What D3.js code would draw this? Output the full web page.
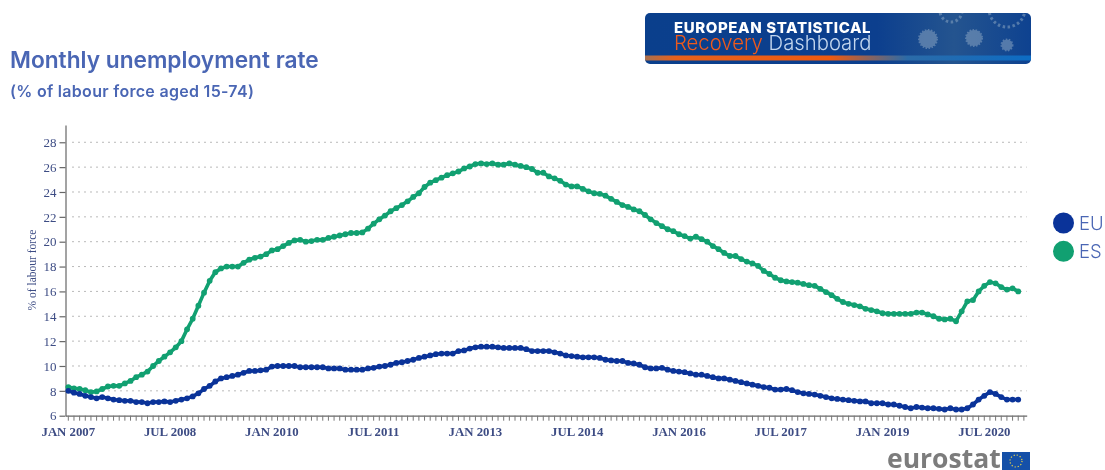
<!DOCTYPE html>
<html>
<head>
<meta charset="utf-8">
<title>Monthly unemployment rate</title>
<script src="https://cdn.jsdelivr.net/npm/d3@7"></script>
<style>
    html, body { margin: 0; padding: 0; background: #fff; overflow: hidden; }
    svg { display: block; filter: blur(0.4px); }
</style>
</head>
<body>
<div id="chart"></div>
<script>
const euValues = [
    8.0, 7.85, 7.75, 7.6, 7.5, 7.4, 7.5, 7.4, 7.3, 7.25, 7.2, 7.2,
    7.1, 7.1, 7.0, 7.1, 7.1, 7.15, 7.1, 7.2, 7.3, 7.4, 7.55, 7.8,
    8.15, 8.4, 8.75, 9.0, 9.1, 9.2, 9.3, 9.45, 9.6, 9.6, 9.65, 9.7,
    9.95, 10.0, 10.0, 10.0, 10.0, 9.9, 9.9, 9.9, 9.9, 9.9, 9.8, 9.8,
    9.8, 9.7, 9.7, 9.7, 9.7, 9.8, 9.85, 9.95, 10.0, 10.1, 10.25, 10.3,
    10.4, 10.5, 10.65, 10.75, 10.85, 10.95, 11.0, 11.0, 11.0, 11.2, 11.25, 11.4,
    11.5, 11.55, 11.55, 11.55, 11.5, 11.45, 11.45, 11.45, 11.45, 11.35, 11.2, 11.2,
    11.2, 11.2, 11.1, 11.0, 10.85, 10.8, 10.75, 10.7, 10.7, 10.7, 10.65, 10.5,
    10.45, 10.4, 10.4, 10.25, 10.2, 10.1, 9.9, 9.8, 9.8, 9.85, 9.7, 9.6,
    9.55, 9.5, 9.4, 9.3, 9.3, 9.2, 9.1, 9.0, 9.0, 8.9, 8.8, 8.7,
    8.6, 8.5, 8.4, 8.3, 8.25, 8.1, 8.1, 8.15, 8.05, 7.9, 7.8, 7.75,
    7.7, 7.6, 7.5, 7.4, 7.35, 7.3, 7.25, 7.2, 7.15, 7.15, 7.0, 7.0,
    7.0, 6.9, 6.9, 6.8, 6.7, 6.6, 6.7, 6.65, 6.6, 6.6, 6.55, 6.5,
    6.6, 6.5, 6.5, 6.6, 6.9, 7.3, 7.6, 7.9, 7.75, 7.5, 7.3, 7.3,
    7.3
]
const esValues = [
    8.3, 8.2, 8.15, 8.05, 7.9, 7.95, 8.15, 8.35, 8.4, 8.4, 8.6, 8.8,
    9.1, 9.3, 9.55, 10.0, 10.4, 10.75, 11.1, 11.5, 12.0, 12.95, 13.8, 14.85,
    15.9, 16.85, 17.55, 17.85, 18.0, 18.0, 18.0, 18.3, 18.55, 18.7, 18.8, 19.0,
    19.3, 19.4, 19.65, 19.9, 20.1, 20.15, 20.0, 20.05, 20.15, 20.15, 20.3, 20.4,
    20.5, 20.6, 20.7, 20.7, 20.75, 21.05, 21.45, 21.8, 22.1, 22.45, 22.7, 22.95,
    23.25, 23.6, 23.9, 24.4, 24.75, 24.95, 25.15, 25.35, 25.5, 25.65, 25.9, 26.05,
    26.25, 26.3, 26.25, 26.3, 26.2, 26.2, 26.3, 26.2, 26.1, 26.0, 25.85, 25.55,
    25.55, 25.25, 25.1, 24.9, 24.6, 24.45, 24.45, 24.25, 24.05, 23.9, 23.85, 23.7,
    23.45, 23.2, 22.95, 22.8, 22.6, 22.45, 22.15, 21.8, 21.5, 21.25, 21.0, 20.85,
    20.6, 20.45, 20.25, 20.4, 20.2, 20.0, 19.65, 19.4, 19.1, 18.85, 18.85, 18.6,
    18.4, 18.25, 18.05, 17.65, 17.4, 17.1, 16.9, 16.8, 16.75, 16.7, 16.6, 16.5,
    16.45, 16.2, 15.95, 15.7, 15.4, 15.15, 15.0, 14.9, 14.8, 14.6, 14.5, 14.4,
    14.25, 14.2, 14.2, 14.2, 14.2, 14.2, 14.3, 14.3, 14.15, 14.0, 13.8, 13.75,
    13.8, 13.6, 14.4, 15.2, 15.3, 16.0, 16.45, 16.75, 16.65, 16.35, 16.15, 16.25,
    16.0
]
const xTickLabels = ['JAN 2007', 'JUL 2008', 'JAN 2010', 'JUL 2011', 'JAN 2013', 'JUL 2014', 'JAN 2016', 'JUL 2017', 'JAN 2019', 'JUL 2020']
const yTicks = [6, 8, 10, 12, 14, 16, 18, 20, 22, 24, 26, 28]
const legendNames = ['EU', 'ES']

const colors = { EU: '#0a3399', ES: '#11a071' }
const labelColor = '#3d4c84'
const titleColor = '#4a66b4'

const width = 1105
const height = 470
const margin = { top: 125, right: 78.3, bottom: 54.3, left: 65.5 }

const monthName = d3.utcFormat('%b %Y')
const months = d3.utcMonth.range(new Date(Date.UTC(2007, 0, 1)), new Date(Date.UTC(2021, 2, 1)))
    .map(d => monthName(d).toUpperCase())

const svg = d3.select('#chart')
    .append('svg')
    .attr('width', width)
    .attr('height', height)

const defs = svg.append('defs')

const x = d3.scaleBand()
    .domain(months)
    .range([margin.left, width - margin.right])

const y = d3.scaleLinear()
    .domain([6, 29.39])
    .range([height - margin.bottom, margin.top])

// title
svg.append('text')
    .attr('x', 10)
    .attr('y', 68)
    .attr('font-family', 'Inter')
    .attr('font-size', 22.7)
    .attr('font-weight', 600)
    .attr('fill', titleColor)
    .text('Monthly unemployment rate')

svg.append('text')
    .attr('x', 10)
    .attr('y', 96.5)
    .attr('font-family', 'Inter')
    .attr('font-size', 16)
    .attr('font-weight', 600)
    .attr('letter-spacing', 0.3)
    .attr('fill', titleColor)
    .text('(% of labour force aged 15-74)')

// grid
svg.append('g')
    .selectAll('line')
    .data(yTicks.filter(d => d > 6))
    .join('line')
    .attr('x1', 72)
    .attr('x2', width - margin.right)
    .attr('y1', d => y(d))
    .attr('y2', d => y(d))
    .attr('stroke', '#b9b9b9')
    .attr('stroke-width', 1)
    .attr('stroke-dasharray', '2,4')

// axes
const yAxis = svg.append('g')
    .attr('transform', `translate(${margin.left},0)`)
    .call(d3.axisLeft(y).tickValues(yTicks).tickSize(6).tickPadding(3).tickSizeOuter(0))

const xAxis = svg.append('g')
    .attr('transform', `translate(0,${height - margin.bottom})`)
    .call(d3.axisBottom(x)
        .tickValues(months)
        .tickSize(5)
        .tickPadding(6)
        .tickSizeOuter(0)
        .tickFormat(d => xTickLabels.includes(d) ? d : ''))

yAxis.selectAll('path, line').attr('stroke', '#666').attr('stroke-width', 1.2)
xAxis.selectAll('path').attr('stroke', '#666').attr('stroke-width', 1.2)
xAxis.selectAll('line').attr('stroke', '#777').attr('stroke-width', 1)

svg.selectAll('.tick text')
    .attr('font-family', 'Liberation Serif')
    .attr('font-size', 12.8)
    .attr('font-weight', 700)
    .attr('fill', labelColor)

yAxis.selectAll('text').attr('font-weight', 400).attr('font-size', 13)

svg.append('text')
    .attr('transform', 'translate(36,270) rotate(-90)')
    .attr('text-anchor', 'middle')
    .attr('font-family', 'Liberation Serif')
    .attr('font-size', 11.5)
    .attr('fill', labelColor)
    .text('% of labour force')

// lines and points
const line = d3.line()
    .x((d, i) => x(months[i]) + x.bandwidth() / 2)
    .y(d => y(d))

const drawSeries = (values, color) => {
    const g = svg.append('g')
    g.append('path')
        .attr('d', line(values))
        .attr('fill', 'none')
        .attr('stroke', color)
        .attr('stroke-width', 3.6)
    g.selectAll('circle')
        .data(values)
        .join('circle')
        .attr('cx', (d, i) => x(months[i]) + x.bandwidth() / 2)
        .attr('cy', d => y(d))
        .attr('r', 2.9)
        .attr('fill', color)
}

drawSeries(esValues, colors.ES)
drawSeries(euValues, colors.EU)

// legend
const legend = svg.append('g')
    .selectAll('g')
    .data(legendNames)
    .join('g')
    .attr('transform', (d, i) => `translate(1063.5,${223 + i * 28.3})`)

legend.append('circle')
    .attr('r', 10.5)
    .attr('fill', d => colors[d])

legend.append('text')
    .attr('x', 15.5)
    .attr('y', 7)
    .attr('font-family', 'Inter')
    .attr('font-size', 18.5)
    .attr('font-weight', 300)
    .attr('fill', titleColor)
    .text(d => d)

// banner
const bannerGradient = defs.append('linearGradient').attr('id', 'bannerBg')
bannerGradient.append('stop').attr('offset', '0%').attr('stop-color', '#0a3f8c')
bannerGradient.append('stop').attr('offset', '60%').attr('stop-color', '#0c3f8e')
bannerGradient.append('stop').attr('offset', '80%').attr('stop-color', '#24548f')
bannerGradient.append('stop').attr('offset', '100%').attr('stop-color', '#0e4290')

const stripeGradient = defs.append('linearGradient').attr('id', 'bannerStripe')
stripeGradient.append('stop').attr('offset', '0%').attr('stop-color', '#a8704f')
stripeGradient.append('stop').attr('offset', '8%').attr('stop-color', '#e8611c')
stripeGradient.append('stop').attr('offset', '48%').attr('stop-color', '#ee5a10')
stripeGradient.append('stop').attr('offset', '68%').attr('stop-color', '#2b6ba8')
stripeGradient.append('stop').attr('offset', '100%').attr('stop-color', '#0d6cc4')

defs.append('clipPath').attr('id', 'bannerClip')
    .append('rect')
    .attr('x', 645).attr('y', 13).attr('width', 386).attr('height', 51).attr('rx', 5)

const banner = svg.append('g').attr('clip-path', 'url(#bannerClip)')

banner.append('rect')
    .attr('x', 645).attr('y', 13).attr('width', 386).attr('height', 51)
    .attr('fill', 'url(#bannerBg)')

banner.append('rect')
    .attr('x', 645).attr('y', 55.5).attr('width', 386).attr('height', 5)
    .attr('fill', 'url(#bannerStripe)')

const viruses = [[928, 39, 9, 1], [974, 38, 8, 1], [1007, 45, 5.5, 1], [951, 11, 11, 0], [1007, 9, 18, 0]]
banner.selectAll('.virus')
    .data(viruses)
    .join('circle')
    .attr('class', 'virus')
    .attr('cx', d => d[0])
    .attr('cy', d => d[1])
    .attr('r', d => d[2])
    .attr('fill', d => d[3] ? '#7f9cbd' : 'none')
    .attr('stroke', '#7f9cbd')
    .attr('stroke-width', d => d[3] ? 2 : 3)
    .attr('stroke-dasharray', d => d[3] ? '1.5,1.5' : '2.5,2.5')
    .attr('opacity', 0.6)

banner.append('text')
    .attr('x', 674)
    .attr('y', 32.5)
    .attr('font-family', 'Inter')
    .attr('font-size', 15)
    .attr('font-weight', 800)
    .attr('letter-spacing', 0.6)
    .attr('fill', '#fff')
    .text('EUROPEAN STATISTICAL')

const bannerLine = banner.append('text')
    .attr('x', 674)
    .attr('y', 49.5)
    .attr('font-family', 'Inter')
    .attr('font-size', 20.3)
    .attr('font-weight', 300)

bannerLine.append('tspan').attr('fill', '#ee5a1c').text('Recovery')
bannerLine.append('tspan').attr('fill', '#c3d6ee').text(' Dashboard')

// eurostat logo
svg.append('text')
    .attr('x', 887)
    .attr('y', 468)
    .attr('font-family', 'Open Sans')
    .attr('font-size', 26.5)
    .attr('font-weight', 700)
    .attr('fill', '#7c7c7c')
    .text('eurostat')

svg.append('rect')
    .attr('x', 1002)
    .attr('y', 452)
    .attr('width', 28)
    .attr('height', 18)
    .attr('fill', '#1550a8')

svg.append('circle')
    .attr('cx', 1016)
    .attr('cy', 461)
    .attr('r', 6)
    .attr('fill', 'none')
    .attr('stroke', '#e8d24a')
    .attr('stroke-width', 1.2)
    .attr('stroke-dasharray', '1.2,1.94')
</script>
</body>
</html>
